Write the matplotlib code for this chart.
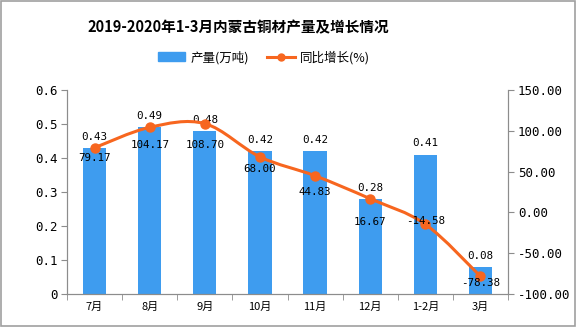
import matplotlib
matplotlib.use("Agg")
import matplotlib.pyplot as plt
import numpy as np
from matplotlib.path import Path
from matplotlib.patches import PathPatch, Rectangle
from matplotlib.lines import Line2D

categories = ["7月", "8月", "9月", "10月", "11月", "12月", "1-2月", "3月"]
output = [0.43, 0.49, 0.48, 0.42, 0.42, 0.28, 0.41, 0.08]
growth = [79.17, 104.17, 108.70, 68.00, 44.83, 16.67, -14.58, -78.38]
left_ticks = [0, 0.1, 0.2, 0.3, 0.4, 0.5, 0.6]
right_ticks = [-100, -50, 0, 50, 100, 150]

# label placement offsets (points, downward positive) as in the reference
growth_label_dy = [7.2, 12.7, 15.1, 8.6, 11.5, 16.6, -2.2, 5.0]

BAR = "#3e9cef"
LINE = "#f7661f"
GREY = "#8c8c8c"
NUM = ["DejaVu Sans Mono", "Noto Sans CJK SC"]
CJK = ["Noto Sans CJK SC", "DejaVu Sans"]

fig = plt.figure(figsize=(5.76, 3.27), dpi=100)
fig.patch.set_facecolor("white")
fig.add_artist(Rectangle((0.002, 0.003), 0.996, 0.994, transform=fig.transFigure,
                         fill=False, edgecolor="#a0a0a0", linewidth=1.2))

ax = fig.add_axes([0.1163, 0.101, 0.7657, 0.624])
ax2 = ax.twinx()

x = np.arange(len(categories))
ax.bar(x, output, width=0.42, color=BAR, zorder=2)
ax.set_xlim(-0.5, len(categories) - 0.5)
ax.set_ylim(0, 0.6)
ax.set_yticks(left_ticks)
ax.set_yticklabels(["0" if v == 0 else f"{v:.1f}" for v in left_ticks],
                   fontfamily=NUM, fontsize=9)
ax.set_xticks(x)
ax.set_xticklabels(categories, fontfamily=CJK, fontsize=8)
ax.set_xticks(np.arange(-0.5, len(categories)), minor=True)
ax.tick_params(axis="x", which="major", length=0, pad=6)
ax.tick_params(axis="x", which="minor", length=4, color=GREY)
ax.tick_params(axis="y", length=4, color=GREY, pad=3)

for a in (ax, ax2):
    a.spines["top"].set_visible(False)
    for s in ("left", "right", "bottom"):
        a.spines[s].set_color(GREY)

ax2.set_ylim(-100, 150)
ax2.set_yticks(right_ticks)
ax2.set_yticklabels([f"{v:.2f}" for v in right_ticks], fontfamily=NUM, fontsize=9)
ax2.tick_params(axis="y", length=4, color=GREY, pad=3)

# smooth line via Catmull-Rom -> cubic Bezier path
pts = np.column_stack([x, growth]).astype(float)
verts = [tuple(pts[0])]
codes = [Path.MOVETO]
n = len(pts)
for i in range(n - 1):
    p0 = pts[i - 1] if i > 0 else pts[i]
    p1 = pts[i]
    p2 = pts[i + 1]
    p3 = pts[i + 2] if i + 2 < n else pts[i + 1]
    c1 = p1 + (p2 - p0) / 6.0
    c2 = p2 - (p3 - p1) / 6.0
    verts += [tuple(c1), tuple(c2), tuple(p2)]
    codes += [Path.CURVE4] * 3
ax2.add_patch(PathPatch(Path(verts, codes), facecolor="none", edgecolor=LINE,
                        linewidth=2.2, zorder=3))
ax2.plot(x, growth, linestyle="none", marker="o", markersize=6.5, color=LINE, zorder=4)

for xi, v in zip(x, output):
    ax.annotate(f"{v:.2f}", (xi, v), xytext=(0, 8), textcoords="offset points",
                ha="center", va="center", fontfamily=NUM, fontsize=7.8, zorder=5)
for xi, g, dy in zip(x, growth, growth_label_dy):
    ax2.annotate(f"{g:.2f}", (xi, g), xytext=(0, -dy), textcoords="offset points",
                 ha="center", va="center", fontfamily=NUM, fontsize=7.8, zorder=5)

fig.text(0.413, 0.917, "2019-2020年1-3月内蒙古铜材产量及增长情况", ha="center", va="center",
         fontfamily=CJK, fontsize=10.5, fontweight="bold")

handles = [Rectangle((0, 0), 1, 1, color=BAR),
           Line2D([0], [0], color=LINE, linewidth=2.2, marker="o", markersize=5)]
fig.legend(handles, ["产量(万吨)", "同比增长(%)"], loc="center", bbox_to_anchor=(0.458, 0.825),
           ncol=2, frameon=False, prop={"family": CJK, "size": 9},
           handlelength=2.2, handleheight=0.7, columnspacing=1.5, handletextpad=0.4)

fig.savefig("out.png", dpi=100)
